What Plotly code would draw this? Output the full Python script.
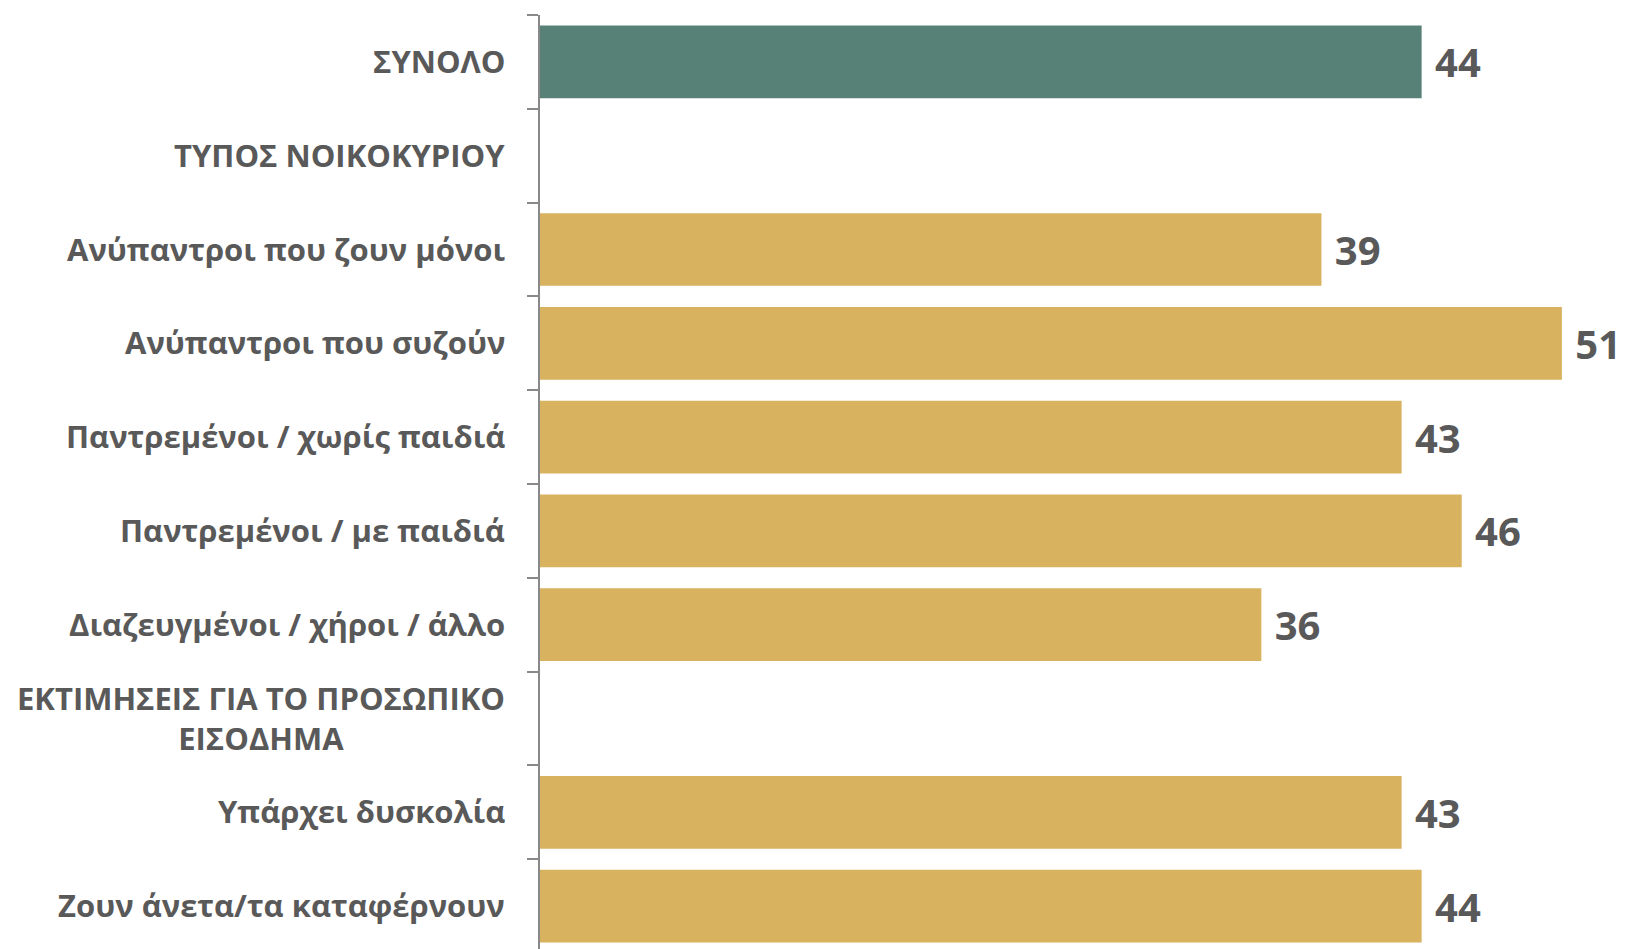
import plotly.graph_objects as go

categories = [
    "ΣΥΝΟΛΟ",
    "ΤΥΠΟΣ ΝΟΙΚΟΚΥΡΙΟΥ",
    "Ανύπαντροι που ζουν μόνοι",
    "Ανύπαντροι που συζούν",
    "Παντρεμένοι / χωρίς παιδιά",
    "Παντρεμένοι / με παιδιά",
    "Διαζευγμένοι / χήροι / άλλο",
    "ΕΚΤΙΜΗΣΕΙΣ ΓΙΑ ΤΟ ΠΡΟΣΩΠΙΚΟ<br>ΕΙΣΟΔΗΜΑ",
    "Υπάρχει δυσκολία",
    "Ζουν άνετα/τα καταφέρνουν",
]
values = [44, None, 39, 51, 43, 46, 36, None, 43, 44]
is_total = [True, False, False, False, False, False, False, False, False, False]

GREEN = "#578176"
GOLD = "#D8B25E"
TEXT = "#595959"
FONT = "Open Sans"

colors = [GREEN if t else GOLD for t in is_total]
texts = ["\u00a0" + str(v) if v is not None else "" for v in values]

fig = go.Figure(
    go.Bar(
        y=categories,
        x=values,
        orientation="h",
        marker=dict(color=colors, line=dict(width=0)),
        text=texts,
        textposition="outside",
        textfont=dict(family=FONT, size=40, color=TEXT, weight="bold"),
        constraintext="none",
        cliponaxis=False,
        hoverinfo="skip",
    )
)

for c in categories:
    fig.add_annotation(
        x=0, xref="paper", y=c, yref="y",
        text=c, showarrow=False,
        xanchor="right", yanchor="middle", xshift=-33, yshift=1,
        align="center",
        font=dict(family=FONT, size=31, color=TEXT, weight="bold"),
    )

fig.update_layout(
    width=1625, height=953,
    margin=dict(l=540, r=5, t=15, b=0),
    paper_bgcolor="white", plot_bgcolor="white",
    bargap=0.225,
    showlegend=False,
    xaxis=dict(range=[0, 53.9], visible=False, fixedrange=True),
    yaxis=dict(
        autorange="reversed",
        type="category",
        showticklabels=False,
        showline=True, linecolor="#898989", linewidth=2,
        ticks="outside", ticklen=11, tickcolor="#898989", tickwidth=2,
        tickson="boundaries",
        showgrid=False, zeroline=False,
    ),
)

fig.write_html(
    "out.html",
    config={"displayModeBar": False},
    post_script="document.body.style.margin='0';document.body.style.overflow='hidden';",
)
